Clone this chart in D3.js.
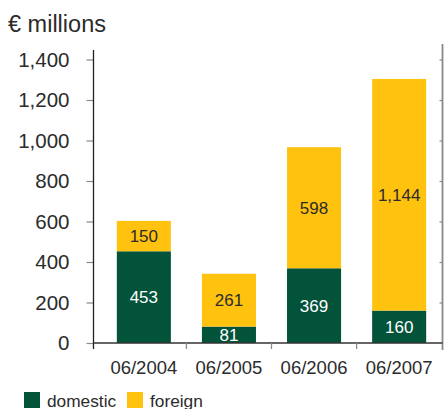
<!DOCTYPE html>
<html>
<head>
<meta charset="utf-8">
<script src="https://cdn.jsdelivr.net/npm/d3@7"></script>
<style>
  html, body { margin: 0; padding: 0; background: #fff; }
  svg { display: block; font-family: "Liberation Sans", Arial, sans-serif; }
</style>
</head>
<body>
<svg id="chart" width="446" height="409"></svg>
<script>
// Investment volume by reporting date, split into domestic and foreign (€ millions)
const categories = ["06/2004", "06/2005", "06/2006", "06/2007"];
const domestic = [453, 81, 369, 160];
const foreign = [150, 261, 598, 1144];
const yTicks = [0, 200, 400, 600, 800, 1000, 1200, 1400];
const seriesNames = ["domestic", "foreign"];
const seriesColors = ["#02533a", "#fec20f"];
const labelColors = ["#ffffff", "#2b2b2b"];

const svg = d3.select("#chart");
const textColor = "#2b2b2b";
const fmt = d3.format(",");

const plotLeft = 93.5, plotRight = 442.5, plotBottom = 343, plotTop = 59.5;

const x = d3.scaleBand()
  .domain(categories)
  .range([101.5, 441.5])
  .paddingInner(0.365)
  .paddingOuter(0.18);

const y = d3.scaleLinear()
  .domain([0, 1400])
  .range([plotBottom, plotTop]);

// stacked data
const rows = categories.map((c, i) => ({ cat: c, domestic: domestic[i], foreign: foreign[i] }));
const stack = d3.stack().keys(seriesNames)(rows);

// title
svg.append("text")
  .attr("x", 8).attr("y", 31.5)
  .attr("font-size", 23.5)
  .attr("fill", textColor)
  .text("€ millions");

// bars
const layers = svg.append("g").selectAll("g")
  .data(stack).join("g")
  .attr("fill", (d, i) => seriesColors[i]);

layers.selectAll("rect")
  .data(d => d)
  .join("rect")
  .attr("x", d => x(d.data.cat))
  .attr("width", x.bandwidth())
  .attr("y", d => y(d[1]))
  .attr("height", d => y(d[0]) - y(d[1]));

// value labels inside segments
stack.forEach((layer, li) => {
  svg.append("g").selectAll("text")
    .data(layer).join("text")
    .attr("x", d => x(d.data.cat) + x.bandwidth() / 2)
    .attr("y", d => (y(d[0]) + y(d[1])) / 2)
    .attr("dy", "0.36em")
    .attr("text-anchor", "middle")
    .attr("font-size", 17)
    .attr("fill", labelColors[li])
    .text(d => fmt(d.data[layer.key]));
});

// left y axis
const yAxis = svg.append("g")
  .attr("transform", `translate(${plotLeft},0)`)
  .call(d3.axisLeft(y).tickValues(yTicks).tickFormat(fmt).tickSize(7).tickPadding(17));
yAxis.select(".domain").remove();
yAxis.selectAll(".tick line").attr("stroke", "#8a8a8a").attr("stroke-width", 1.2);
yAxis.selectAll(".tick text")
  .attr("font-size", 20.5)
  .attr("fill", textColor)
  .attr("font-family", "Liberation Sans, Arial, sans-serif");
svg.append("line")
  .attr("x1", plotLeft).attr("x2", plotLeft)
  .attr("y1", 50).attr("y2", 349)
  .attr("stroke", "#222").attr("stroke-width", 1.3);

// right frame axis with inward ticks
const yRight = svg.append("g")
  .attr("transform", `translate(${plotRight},0)`)
  .call(d3.axisRight(y).tickValues(yTicks.slice(1)).tickFormat("").tickSize(-3));
yRight.select(".domain").remove();
yRight.selectAll(".tick line").attr("stroke", "#8a8a8a").attr("stroke-width", 1.2);
svg.append("line")
  .attr("x1", plotRight).attr("x2", plotRight)
  .attr("y1", 44).attr("y2", 350)
  .attr("stroke", "#8a8a8a").attr("stroke-width", 1.8);

// x axis baseline and boundary ticks
svg.append("line")
  .attr("x1", plotLeft).attr("x2", plotRight)
  .attr("y1", plotBottom).attr("y2", plotBottom)
  .attr("stroke", "#333").attr("stroke-width", 1.3);

const step = x.step();
const bounds = categories.map(c => x(c) + x.bandwidth() + (step - x.bandwidth()) / 2);
svg.append("g").selectAll("line")
  .data(bounds.slice(0, -1)).join("line")
  .attr("x1", d => d).attr("x2", d => d)
  .attr("y1", plotBottom).attr("y2", plotBottom + 6)
  .attr("stroke", "#8a8a8a").attr("stroke-width", 1.3);

svg.append("g").selectAll("text")
  .data(categories).join("text")
  .attr("x", d => x(d) + x.bandwidth() / 2)
  .attr("y", 373.5)
  .attr("text-anchor", "middle")
  .attr("font-size", 18.5)
  .attr("fill", textColor)
  .text(d => d);

// legend
const legend = svg.append("g");
const legendX = [24, 127];
seriesNames.forEach((name, i) => {
  legend.append("rect")
    .attr("x", legendX[i]).attr("y", 392)
    .attr("width", 16).attr("height", 16)
    .attr("fill", seriesColors[i]);
  legend.append("text")
    .attr("x", legendX[i] + 23).attr("y", 406.5)
    .attr("font-size", 17.3)
    .attr("fill", textColor)
    .text(name);
});
</script>
</body>
</html>
